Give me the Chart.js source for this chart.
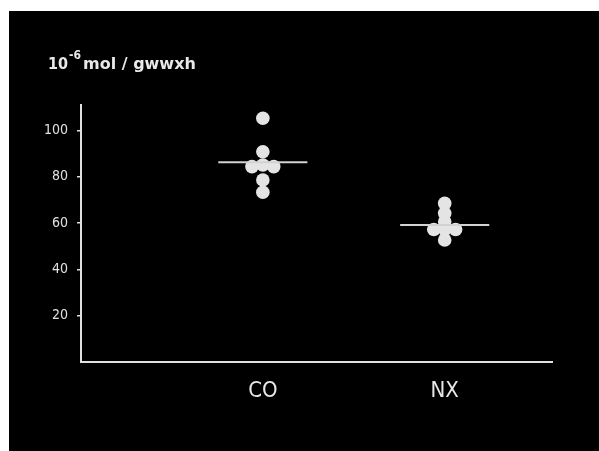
<!DOCTYPE html>
<html>
<head>
<meta charset="utf-8">
<script src="https://cdn.jsdelivr.net/npm/chart.js@4/dist/chart.umd.min.js"></script>
<style>
  html, body { margin: 0; padding: 0; background: #ffffff; width: 599px; height: 451px; overflow: hidden; }
  #wrap { position: absolute; left: 9px; top: 11px; width: 590px; height: 440px; background: #000000; }
  canvas { display: block; }
</style>
</head>
<body>
<div id="wrap"><canvas id="c" width="590" height="440"></canvas></div>
<script>
// ---- data ----
const categories = ['CO', 'NX'];
const coValues = [105.3, 90.8, 85.1, 84.4, 84.4, 78.6, 73.3];
const coSlots  = [0, 0, 0, -1, 1, 0, 0];
const nxValues = [68.5, 64.2, 60.6, 57.2, 57.2, 57.2, 52.7];
const nxSlots  = [0, 0, 0, -1, 0, 1, 0];
const meanValues = [86.3, 59.2];
const yTickValues = [20, 40, 60, 80, 100];
const unitBase = '10';
const unitExp = '-6';
const unitRest = 'mol / gwwxh';

// ---- build datasets ----
const slotWidth = 0.06;
const meanHalf = 0.245;
function pts(values, slots, catIndex) {
  return values.map((v, i) => ({ x: catIndex + 1 + slots[i] * slotWidth, y: v }));
}
const pointColor = '#e4e4e4';
const lineColor = '#d2d2d2';

const datasets = [
  { type: 'scatter', label: categories[0], data: pts(coValues, coSlots, 0),
    pointRadius: 6.8, pointBackgroundColor: pointColor, pointBorderWidth: 0, showLine: false },
  { type: 'scatter', label: categories[1], data: pts(nxValues, nxSlots, 1),
    pointRadius: 6.8, pointBackgroundColor: pointColor, pointBorderWidth: 0, showLine: false }
];
meanValues.forEach((m, i) => {
  datasets.unshift({ type: 'line', label: 'mean ' + categories[i],
    data: [{ x: i + 1 - meanHalf, y: m }, { x: i + 1 + meanHalf, y: m }],
    borderColor: lineColor, borderWidth: 2, pointRadius: 0, fill: false });
});

const unitTitle = {
  id: 'unitTitle',
  afterDraw(chart) {
    const ctx = chart.ctx;
    ctx.save();
    ctx.fillStyle = '#e8e8e8';
    ctx.textBaseline = 'alphabetic';
    ctx.textAlign = 'left';
    ctx.font = 'bold 16px "DejaVu Sans Condensed", "DejaVu Sans", sans-serif';
    ctx.fillText(unitBase, 39, 58);
    const w = ctx.measureText(unitBase).width;
    ctx.font = 'bold 12px "DejaVu Sans Condensed", "DejaVu Sans", sans-serif';
    ctx.fillText(unitExp, 39 + w + 1, 48);
    ctx.font = 'bold 16px "DejaVu Sans", sans-serif';
    ctx.fillText(unitRest, 74, 58);
    ctx.restore();
  }
};

new Chart(document.getElementById('c'), {
  data: { datasets },
  options: {
    responsive: false,
    animation: false,
    layout: { padding: { left: 0, right: 47, top: 94, bottom: 29 } },
    plugins: { legend: { display: false }, tooltip: { enabled: false }, title: { display: false } },
    scales: {
      x: {
        type: 'linear', min: 0, max: 2.59,
        afterBuildTicks: (s) => { s.ticks = categories.map((c, i) => ({ value: i + 1 })); },
        afterFit: (s) => { s.height = 60; },
        ticks: {
          color: '#e8e8e8', padding: 16, autoSkip: false, maxRotation: 0,
          font: { family: '"DejaVu Sans Condensed", "DejaVu Sans", sans-serif', size: 22 },
          callback: (v) => categories[Math.round(v) - 1] || ''
        },
        grid: { display: false, drawTicks: false },
        border: { display: true, color: '#e0e0e0', width: 2 }
      },
      y: {
        type: 'linear', min: 0, max: 111,
        afterBuildTicks: (s) => { s.ticks = yTickValues.map(v => ({ value: v })); },
        afterFit: (s) => { s.width = 72; },
        ticks: {
          color: '#e0e0e0', padding: 9,
          font: { family: '"DejaVu Sans Condensed", "DejaVu Sans", sans-serif', size: 14 }
        },
        grid: { display: true, drawOnChartArea: false, drawTicks: true, tickLength: 4, color: '#e0e0e0', lineWidth: 1.5 },
        border: { display: true, color: '#e0e0e0', width: 2 }
      }
    }
  },
  plugins: [unitTitle]
});
</script>
</body>
</html>
